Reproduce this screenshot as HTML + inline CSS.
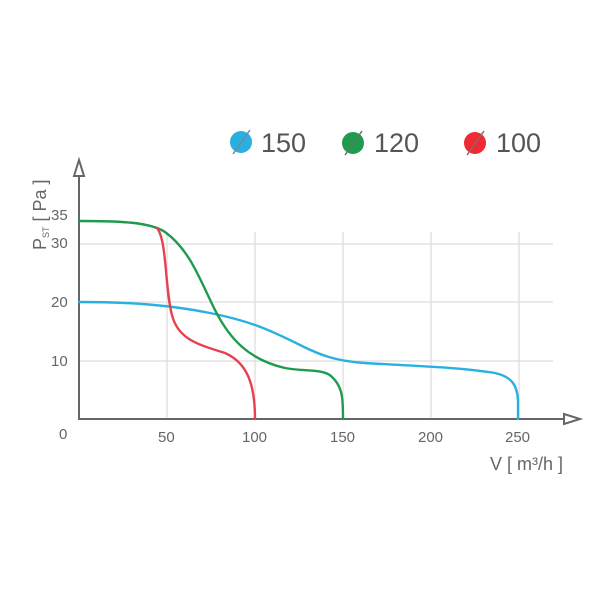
<!DOCTYPE html>
<html><head><style>body{margin:0;background:#fff}svg{display:block}</style></head><body>
<svg width="600" height="600" viewBox="0 0 600 600" xmlns="http://www.w3.org/2000/svg" font-family="Liberation Sans, sans-serif">
<g stroke="#ddd" stroke-width="1.2">
<line x1="167" y1="232" x2="167" y2="420"/><line x1="255" y1="232" x2="255" y2="420"/><line x1="343" y1="232" x2="343" y2="420"/><line x1="431" y1="232" x2="431" y2="420"/><line x1="519" y1="232" x2="519" y2="420"/>
<line x1="78" y1="244" x2="553" y2="244"/><line x1="78" y1="302" x2="553" y2="302"/><line x1="78" y1="361" x2="553" y2="361"/>
</g>
<g stroke="#666" stroke-width="2" fill="#fff">
<line x1="79" y1="170" x2="79" y2="420"/><line x1="78" y1="419" x2="570" y2="419"/>
<path d="M74,176 L79,160 L84,176 Z"/><path d="M564,414 L580,419 L564,424 Z"/>
</g>
<g fill="none" stroke-width="2.4" stroke-linecap="round">
<path stroke="#2ab0e0" d="M79,302 C130,302 170,305 210,313 C250,321 270,330 300,345 C320,355 335,361 365,363 C410,366 460,367 495,373 C512,377 517,385 518,400 L518,419"/>
<path stroke="#1f9a4e" d="M79,221 C120,221 150,222 165,232 C190,250 200,280 215,310 C230,340 250,360 285,368 C305,372 325,368 333,378 C343,388 343,400 343,419"/>
<path stroke="#e84050" d="M157,228 C167,240 165,290 172,315 C178,340 200,345 225,353 C245,362 255,380 255,419"/>
</g>
<g fill="#666" font-size="15">
<text x="51" y="220">35</text><text x="51" y="248">30</text><text x="51" y="307">20</text><text x="51" y="366">10</text>
<text x="59" y="439">0</text>
<text x="158" y="442">50</text><text x="242" y="442">100</text><text x="330" y="442">150</text><text x="418" y="442">200</text><text x="505" y="442">250</text>
<text x="490" y="470" font-size="18">V [ m³/h ]</text>
<text transform="translate(46,250) rotate(-90)" font-size="18">P<tspan font-size="9" dy="3">ST</tspan><tspan dy="-3"> [ Pa ]</tspan></text>
</g>
<g font-size="27" fill="#555">
<circle cx="241" cy="142" r="11" fill="#2ab0e0"/><line x1="233" y1="154" x2="250" y2="130" stroke="#6a8aa0" stroke-width="1.5"/><text x="261" y="152">150</text>
<circle cx="353" cy="143" r="11" fill="#1f9a4e"/><line x1="345" y1="155" x2="362" y2="131" stroke="#5a7a60" stroke-width="1.5"/><text x="374" y="152">120</text>
<circle cx="475" cy="143" r="11" fill="#ee2a35"/><line x1="467" y1="155" x2="484" y2="131" stroke="#996060" stroke-width="1.5"/><text x="496" y="152">100</text>
</g>
</svg>
</body></html>
